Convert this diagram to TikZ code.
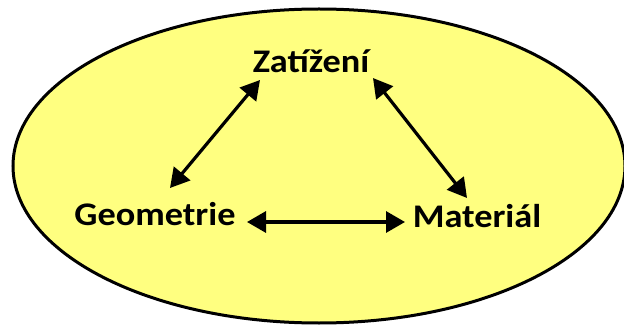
\documentclass[tikz,border=0pt]{standalone}
\usepackage{fontspec}
\setmainfont{Carlito}
\usetikzlibrary{arrows.meta}
\definecolor{ellfill}{HTML}{FFFF80}
\begin{document}
\begin{tikzpicture}[x=1pt,y=-1pt,
  lbl/.style={font=\bfseries\fontsize{33}{33}\selectfont, inner sep=0pt, anchor=base, xscale=1.1},
  arr/.style={line width=3.2pt, {Triangle[length=19pt,width=21pt]}-{Triangle[length=19pt,width=21pt]}}]
\useasboundingbox (0,0) rectangle (624,326);
\draw[fill=ellfill, line width=3pt] (319,166) ellipse [x radius=306, y radius=157];
\node[lbl] (zat) at (311,73) {Zatížení};
\node[lbl] (geo) at (155,225) {Geometrie};
\node[lbl] (mat) at (477,227) {Materiál};
\coordinate (gz) at (170,188);
\coordinate (zg) at (260,80);
\coordinate (zm) at (373,78);
\coordinate (mz) at (467,198);
\coordinate (gm) at (247,222);
\coordinate (mg) at (405,222);
\draw[arr] (gz) -- (zg);
\draw[arr] (zm) -- (mz);
\draw[arr] (gm) -- (mg);
\end{tikzpicture}
\end{document}
